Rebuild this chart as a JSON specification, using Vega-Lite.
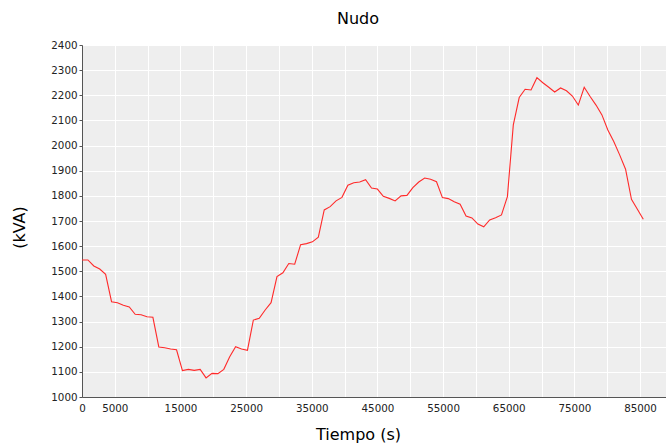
{
  "$schema": "https://vega.github.io/schema/vega-lite/v6.json",
  "autosize": {"type": "none"},
  "padding": {"left": 82, "top": 45, "right": 0, "bottom": 47},
  "width": 584,
  "height": 352,
  "background": "#ffffff",
  "title": {"text": "Nudo", "font": "DejaVu Sans", "fontSize": 16, "fontWeight": "normal", "color": "#000000", "anchor": "middle", "dx": -16, "baseline": "alphabetic", "offset": 0},
  "config": {
    "view": {"fill": "#eeeeee", "stroke": "#555555", "strokeWidth": 1},
    "axis": {"labelFont": "DejaVu Sans", "labelFontSize": 10.3, "labelColor": "#222222", "titleFont": "DejaVu Sans", "titleFontSize": 16, "titleFontWeight": "normal", "titleColor": "#000000", "gridColor": "#ffffff", "gridOpacity": 1, "gridWidth": 1, "domainColor": "#555555", "tickColor": "#555555"}
  },
  "data": {"values": [
    {"t": 0, "kva": 1545}, {"t": 900, "kva": 1545}, {"t": 1800, "kva": 1521}, {"t": 2700, "kva": 1509},
    {"t": 3600, "kva": 1488}, {"t": 4500, "kva": 1379}, {"t": 5400, "kva": 1375}, {"t": 6300, "kva": 1365},
    {"t": 7200, "kva": 1358}, {"t": 8100, "kva": 1329}, {"t": 9000, "kva": 1327}, {"t": 9900, "kva": 1319},
    {"t": 10800, "kva": 1317}, {"t": 11700, "kva": 1199}, {"t": 12600, "kva": 1196}, {"t": 13500, "kva": 1191},
    {"t": 14400, "kva": 1188}, {"t": 15300, "kva": 1105}, {"t": 16200, "kva": 1110}, {"t": 17100, "kva": 1106},
    {"t": 18000, "kva": 1110}, {"t": 18900, "kva": 1076}, {"t": 19800, "kva": 1094}, {"t": 20700, "kva": 1093},
    {"t": 21600, "kva": 1110}, {"t": 22500, "kva": 1160}, {"t": 23400, "kva": 1200}, {"t": 24300, "kva": 1191},
    {"t": 25200, "kva": 1186}, {"t": 26100, "kva": 1306}, {"t": 27000, "kva": 1313}, {"t": 27900, "kva": 1346},
    {"t": 28800, "kva": 1375}, {"t": 29700, "kva": 1479}, {"t": 30600, "kva": 1494}, {"t": 31500, "kva": 1531},
    {"t": 32400, "kva": 1528}, {"t": 33300, "kva": 1606}, {"t": 34200, "kva": 1610}, {"t": 35100, "kva": 1617},
    {"t": 36000, "kva": 1636}, {"t": 36900, "kva": 1744}, {"t": 37800, "kva": 1757}, {"t": 38700, "kva": 1780},
    {"t": 39600, "kva": 1794}, {"t": 40500, "kva": 1842}, {"t": 41400, "kva": 1852}, {"t": 42300, "kva": 1855},
    {"t": 43200, "kva": 1864}, {"t": 44100, "kva": 1831}, {"t": 45000, "kva": 1827}, {"t": 45900, "kva": 1798},
    {"t": 46800, "kva": 1790}, {"t": 47700, "kva": 1780}, {"t": 48600, "kva": 1800}, {"t": 49500, "kva": 1802},
    {"t": 50400, "kva": 1833}, {"t": 51300, "kva": 1855}, {"t": 52200, "kva": 1871}, {"t": 53100, "kva": 1866},
    {"t": 54000, "kva": 1856}, {"t": 54900, "kva": 1793}, {"t": 55800, "kva": 1789}, {"t": 56700, "kva": 1777},
    {"t": 57600, "kva": 1767}, {"t": 58500, "kva": 1720}, {"t": 59400, "kva": 1712}, {"t": 60300, "kva": 1688},
    {"t": 61200, "kva": 1677}, {"t": 62100, "kva": 1704}, {"t": 63000, "kva": 1713}, {"t": 63900, "kva": 1724},
    {"t": 64800, "kva": 1797}, {"t": 65700, "kva": 2082}, {"t": 66600, "kva": 2191}, {"t": 67500, "kva": 2224},
    {"t": 68400, "kva": 2221}, {"t": 69300, "kva": 2270}, {"t": 70200, "kva": 2250}, {"t": 71100, "kva": 2232},
    {"t": 72000, "kva": 2213}, {"t": 72900, "kva": 2229}, {"t": 73800, "kva": 2218}, {"t": 74700, "kva": 2197},
    {"t": 75600, "kva": 2161}, {"t": 76500, "kva": 2232}, {"t": 77400, "kva": 2195}, {"t": 78300, "kva": 2161},
    {"t": 79200, "kva": 2122}, {"t": 80100, "kva": 2062}, {"t": 81000, "kva": 2016}, {"t": 81900, "kva": 1963},
    {"t": 82800, "kva": 1906}, {"t": 83700, "kva": 1786}, {"t": 84600, "kva": 1747}, {"t": 85500, "kva": 1707}
  ]},
  "mark": {"type": "line", "color": "#ff2a2a", "strokeWidth": 1.1, "clip": true},
  "encoding": {
    "x": {
      "field": "t", "type": "quantitative",
      "scale": {"domain": [0, 88960], "nice": false, "zero": false},
      "axis": {
        "title": "Tiempo (s)", "titleX": 276, "titleY": 42, "titleBaseline": "alphabetic", "titleAnchor": null,
        "values": [0, 5000, 10000, 15000, 20000, 25000, 30000, 35000, 40000, 45000, 50000, 55000, 60000, 65000, 70000, 75000, 80000, 85000],
        "labelExpr": "(datum.value == 0 || datum.value % 10000 == 5000) ? format(datum.value, 'd') : ''",
        "labelOverlap": false, "labelFlush": false, "labelPadding": 6, "ticks": false, "grid": true
      }
    },
    "y": {
      "field": "kva", "type": "quantitative",
      "scale": {"domain": [1000, 2400], "nice": false, "zero": false},
      "axis": {
        "title": "(kVA)", "titleX": -58, "titleY": 182, "titleAngle": -90, "titleBaseline": "alphabetic", "titleAlign": "center",
        "values": [1000, 1100, 1200, 1300, 1400, 1500, 1600, 1700, 1800, 1900, 2000, 2100, 2200, 2300, 2400],
        "format": "d", "labelOverlap": false, "labelFlush": false, "tickSize": 3, "labelPadding": 2, "grid": true
      }
    }
  }
}
